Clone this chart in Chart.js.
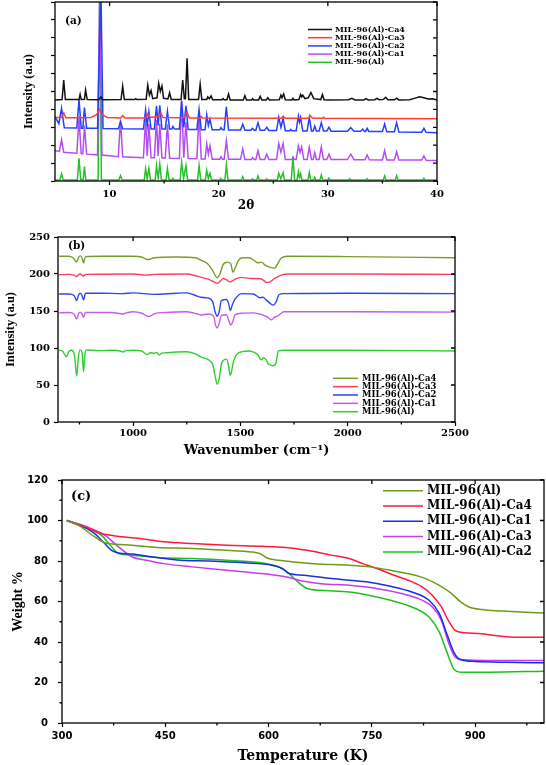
<!DOCTYPE html>
<html>
<head>
<meta charset="utf-8">
<script src="https://cdn.jsdelivr.net/npm/chart.js@4.4.1/dist/chart.umd.min.js"></script>
<style>
  body { margin: 0; background: #fff; width: 546px; height: 765px; position: relative; overflow: hidden; }
  .box { position: absolute; left: 0; width: 546px; }
</style>
</head>
<body>
<div class="box" style="top:0;height:214px"><canvas id="xrd"></canvas></div>
<div class="box" style="top:214px;height:246px"><canvas id="ftir"></canvas></div>
<div class="box" style="top:460px;height:305px"><canvas id="tga"></canvas></div>
<script>
// ---- (a) XRD, 2theta vs intensity (a.u.), curves stacked ----
const xrdLabels = ["MIL-96(Al)-Ca4", "MIL-96(Al)-Ca3", "MIL-96(Al)-Ca2", "MIL-96(Al)-Ca1", "MIL-96(Al)"];
const xrdTicks = [10, 20, 30, 40];
const xrdMinor = [15, 25, 35];
const xrdYTicks = [0, 10, 20, 30, 40, 50, 60, 70, 80, 90, 100];

const xrdCa4 = [[5,45.3],[5.65,45.5],[5.8,56.4],[5.95,45.5],[7.2,45.5],[7.3,48.4],[7.4,45.5],[7.7,45.6],[7.8,50.8],[7.95,45.5],[9.0,45.4],[9.2,47],[9.35,45.4],[11.05,45.5],[11.2,53],[11.35,45.5],[12.3,45.5],[12.4,46],[12.5,45.5],[13.35,45.7],[13.5,53.6],[13.65,48],[13.8,50.5],[13.95,46],[14.35,46.5],[14.5,54.6],[14.65,50],[14.8,53],[14.95,46.2],[15.35,45.8],[15.5,49.3],[15.65,45.6],[16.55,45.6],[16.7,56.4],[16.85,46],[16.95,46],[17.1,68.5],[17.25,45.6],[18.15,45.6],[18.3,54],[18.45,45.5],[18.9,45.5],[19.0,47],[19.15,46],[19.3,47.5],[19.45,45.4],[20.3,45.4],[20.4,46],[20.5,45.4],[20.75,45.4],[20.9,48.6],[21.05,45.3],[22.25,45.3],[22.4,47.7],[22.55,45.3],[23.0,45.3],[23.1,46],[23.2,45.3],[23.65,45.3],[23.8,47.3],[23.95,45.3],[24.35,45.3],[24.5,46.5],[24.65,45.3],[25.55,45.4],[25.7,48],[25.8,46.5],[25.95,48.6],[26.1,45.4],[26.7,45.3],[26.8,46.2],[26.9,45.3],[27.35,45.5],[27.5,48.3],[27.6,47],[27.7,48],[27.9,46],[28.2,46.5],[28.45,49.5],[28.7,46],[29.35,45.5],[29.5,48.3],[29.65,45.4],[30.0,45.3],[31.9,45.4],[32.2,46.2],[32.5,45.3],[33.3,45.3],[33.5,46],[33.7,45.3],[34.3,45.4],[34.5,46.2],[34.7,45.4],[35.1,45.6],[35.3,46.8],[35.5,45.4],[36.1,45.4],[36.3,46.3],[36.5,45.3],[37.5,45.4],[38.0,46.3],[38.4,47],[38.8,46.5],[39.2,45.8],[39.6,46],[40,45.3]];
const xrdCa3 = [[5,35.5],[5.6,35.5],[5.8,38],[6.0,35.3],[7.2,35.3],[7.3,36],[7.4,35.3],[8.3,35.5],[8.8,37],[9.1,40],[9.3,37],[9.8,35.5],[11.0,35.2],[11.2,36.5],[11.4,35.2],[13.3,35.2],[13.5,37.5],[13.7,35.5],[14.5,36],[14.7,38],[14.9,35.5],[16.8,35.3],[17.1,38.5],[17.3,35.2],[18.3,35.2],[18.4,36],[18.5,35.2],[25.7,35],[25.9,36],[26.1,35],[28.2,35],[28.4,36.5],[28.6,35],[29.5,35],[29.6,35.6],[29.7,35],[40,34.8]];
const xrdCa2 = [[5,36],[5.35,32],[5.6,40.6],[5.85,29.8],[7.0,29.6],[7.2,45.6],[7.4,29.5],[7.55,29.5],[7.7,41],[7.9,29.4],[8.9,29.4],[9.2,110],[9.4,29.3],[10.8,29.2],[11.0,33],[11.2,29.2],[13.1,29],[13.3,39.7],[13.45,31],[13.6,38.7],[13.8,29],[14.1,29],[14.3,42],[14.45,31],[14.6,42.3],[14.8,29],[15.1,29],[15.3,39],[15.5,29],[15.7,29],[15.8,30.5],[15.95,29],[16.4,29],[16.6,44.7],[16.8,30],[17.0,42],[17.2,28.8],[18.0,28.8],[18.2,40],[18.4,28.7],[18.75,28.7],[18.9,37],[19.05,31],[19.2,34.6],[19.4,28.6],[20.1,28.6],[20.2,29.8],[20.35,28.6],[20.5,28.6],[20.7,41.5],[20.9,28.5],[22.0,28.5],[22.2,31.7],[22.4,28.4],[22.95,28.4],[23.1,29.4],[23.25,28.4],[23.4,28.4],[23.6,32.6],[23.8,28.3],[24.2,28.3],[24.4,30],[24.6,28.2],[25.3,28.2],[25.5,35.6],[25.7,30],[25.9,35],[26.1,28.1],[26.5,28.1],[26.6,28.8],[26.7,28.1],[27.1,28.1],[27.3,36.3],[27.4,33],[27.5,35.5],[27.7,28],[28.1,28],[28.3,35.4],[28.5,28],[28.65,28],[28.8,30.7],[28.95,27.9],[29.2,27.9],[29.4,32.6],[29.6,27.9],[29.9,27.9],[30.1,30],[30.3,27.8],[31.8,27.8],[32.1,29.8],[32.4,27.8],[33.0,27.8],[33.2,29],[33.35,27.7],[33.45,27.7],[33.6,29.4],[33.75,27.7],[35.0,27.6],[35.2,31.8],[35.4,27.5],[36.1,27.5],[36.3,32.6],[36.5,27.4],[38.6,27.3],[38.8,29.4],[39.0,27.2],[40,27]];
const xrdCa1 = [[5,17],[5.4,16.5],[5.6,23],[5.8,16],[7.0,15.5],[7.2,35],[7.4,15.2],[7.55,15.2],[7.7,31],[7.9,15],[8.9,14.6],[9.1,110],[9.3,14.5],[10.8,13.6],[11.0,34.5],[11.2,13.5],[13.1,13],[13.3,34.5],[13.45,14],[13.6,32],[13.8,13],[14.1,13],[14.3,34],[14.45,14],[14.6,32],[14.8,12.8],[15.1,12.8],[15.3,31.7],[15.5,12.7],[16.4,12.6],[16.6,45],[16.8,13],[17.0,33],[17.2,12.5],[18.0,12.4],[18.2,38],[18.4,12.3],[18.75,12.3],[18.9,20.7],[19.05,15],[19.2,19.7],[19.4,12.2],[20.1,12.2],[20.2,13.5],[20.35,12.2],[20.5,12.2],[20.7,22.5],[20.9,12.1],[22.0,12.1],[22.2,17.9],[22.4,12],[23.0,12],[23.1,13],[23.25,12],[23.4,12],[23.6,17],[23.8,12],[24.2,12],[24.4,15],[24.6,12],[25.3,12],[25.5,21],[25.7,16],[25.9,21],[26.1,12],[26.7,12],[26.8,13],[26.95,12],[27.1,12],[27.3,19.7],[27.45,16],[27.6,19],[27.8,12],[28.1,12],[28.3,18.8],[28.5,12],[28.65,12],[28.8,15.8],[28.95,12],[29.2,12],[29.4,19],[29.6,12],[29.9,12],[30.1,15],[30.3,12],[31.8,12],[32.1,15],[32.4,11.9],[33.4,11.9],[33.6,14.5],[33.8,11.9],[35.0,11.8],[35.2,17],[35.4,11.8],[36.1,11.8],[36.3,16.4],[36.5,11.7],[38.6,11.7],[38.8,14],[39.0,11.6],[40,11.5]];
const xrdMil = [[5,0.6],[5.45,0.6],[5.6,4],[5.75,0.6],[7.05,0.6],[7.2,12.7],[7.35,0.8],[7.58,0.8],[7.7,8],[7.82,0.6],[8.95,0.6],[9.1,110],[9.25,0.6],[10.85,0.6],[11.0,3],[11.15,0.6],[13.18,0.6],[13.3,7],[13.45,1.2],[13.6,7],[13.75,0.6],[14.18,0.6],[14.3,8.6],[14.45,1.5],[14.6,9.5],[14.75,0.6],[15.18,0.6],[15.3,7],[15.45,0.6],[15.7,0.6],[15.8,1.5],[15.9,0.6],[16.47,0.6],[16.6,10.5],[16.78,1.5],[17.0,8.6],[17.15,0.6],[18.07,0.6],[18.2,8.6],[18.35,0.6],[18.78,0.6],[18.9,6],[19.05,1.5],[19.2,4.3],[19.35,0.6],[20.1,0.6],[20.2,1.5],[20.3,0.6],[20.57,0.6],[20.7,9],[20.85,0.6],[22.1,0.6],[22.2,2.4],[22.32,0.6],[23.0,0.6],[23.1,1.2],[23.2,0.6],[23.48,0.6],[23.6,2.8],[23.72,0.6],[24.3,0.6],[24.4,1.2],[24.5,0.6],[25.38,0.6],[25.5,4.3],[25.68,1.2],[25.9,4.7],[26.02,0.6],[26.65,0.6],[26.8,14],[26.95,0.6],[27.18,0.6],[27.3,5.2],[27.4,2],[27.5,4],[27.62,0.6],[28.18,0.6],[28.3,4.8],[28.42,0.6],[28.7,0.6],[28.8,2],[28.9,0.6],[29.28,0.6],[29.4,3.4],[29.52,0.6],[30.0,0.6],[30.1,1.6],[30.2,0.6],[31.9,0.6],[32.0,1.3],[32.1,0.6],[33.5,0.6],[33.6,1.3],[33.7,0.6],[35.08,0.6],[35.2,2.8],[35.32,0.6],[36.18,0.6],[36.3,3],[36.42,0.6],[38.7,0.6],[38.8,1.5],[38.9,0.6],[40,0.6]];

// ---- (b) FTIR, wavenumber vs intensity ----
const ftirLabels = ["MIL-96(Al)-Ca4", "MIL-96(Al)-Ca3", "MIL-96(Al)-Ca2", "MIL-96(Al)-Ca1", "MIL-96(Al)"];
const ftirTicks = [1000, 1500, 2000, 2500];
const ftirMinor = [750, 1250, 1750, 2250];
const ftirYTicks = [0, 50, 100, 150, 200, 250];

const ftirCa4 = [[655,224],[700,224],[720,222],[737,216],[745,222],[753,224.5],[762,222],[769,215],[778,223.5],[850,224],[1000,224],[1040,223],[1065,219.6],[1080,220],[1097,222],[1200,223],[1290,222],[1320,218],[1347,214],[1370,205],[1392,195],[1405,200],[1418,212],[1440,216],[1455,214],[1465,202.5],[1478,210],[1490,218],[1508,222],[1540,222],[1565,218],[1581,215],[1597,216],[1615,212],[1640,209],[1660,208],[1672,213],[1690,221.5],[1720,224],[2000,223.5],[2500,222]];
const ftirCa3 = [[655,199],[700,199.5],[725,198.5],[737,196.6],[745,199],[753,200],[762,198.5],[769,197],[778,199.5],[1000,200],[1060,198.5],[1100,199.5],[1250,200],[1300,197],[1350,193],[1380,189],[1392,187.6],[1405,190],[1420,194],[1435,192],[1452,189.4],[1470,192],[1500,195.5],[1550,194],[1592,193.5],[1610,191],[1620,188.5],[1635,189],[1660,194],[1690,198.5],[1720,200],[2000,200],[2500,199.5]];
const ftirCa2 = [[655,173],[700,173],[725,171],[737,164],[745,171],[753,174],[762,171],[769,165],[778,174],[850,174],[950,173.5],[1000,174.5],[1100,172.5],[1200,174],[1250,174.5],[1290,171],[1315,168.6],[1347,167.7],[1370,163],[1383,148],[1392,143],[1402,150],[1411,164],[1435,165.5],[1445,160],[1453,150.5],[1462,158],[1475,166],[1508,173.5],[1560,173],[1590,168],[1605,168.5],[1620,165],[1640,160],[1653,158],[1666,162],[1680,172],[1702,173.5],[2000,174],[2500,173.5]];
const ftirCa1 = [[655,147.5],[700,148],[725,146],[737,139],[745,146],[753,148.5],[762,146],[769,141.5],[778,148],[900,148],[952,146],[975,148],[1000,149],[1040,147],[1073,142.5],[1100,146.5],[1150,148],[1250,149],[1300,146],[1315,144.6],[1350,146],[1375,143],[1385,130],[1392,127],[1400,132],[1411,144],[1435,145],[1445,138],[1455,131],[1465,136],[1475,145],[1508,147],[1560,147.5],[1600,145],[1630,141],[1645,138],[1660,142],[1672,143],[1690,147],[1702,149],[2000,149],[2500,148.5]];
const ftirMil = [[655,97],[672,95.5],[689,88],[700,95],[712,97],[727,90],[737,62],[745,88],[753,97.5],[762,94],[769,68],[775,90],[782,97.5],[800,97],[850,96.5],[900,97],[940,96],[952,94.5],[965,96.5],[1000,97],[1040,96],[1065,91],[1080,93.5],[1097,93],[1110,94],[1121,90.5],[1135,93],[1153,93.5],[1200,94.5],[1250,95],[1290,92],[1315,88],[1335,86],[1347,85],[1360,82],[1371,78],[1382,62],[1392,51],[1402,60],[1411,78],[1425,84],[1435,85],[1445,76],[1452,63],[1460,70],[1468,82],[1485,92],[1508,95],[1540,96],[1565,94],[1581,91],[1597,84],[1608,87],[1620,84],[1629,79],[1640,77],[1653,76],[1666,80],[1677,96],[1702,97],[2000,97],[2500,96]];

// ---- (c) TGA, temperature (K) vs weight % ----
const tgaLabels = ["MIL-96(Al)", "MIL-96(Al)-Ca4", "MIL-96(Al)-Ca1", "MIL-96(Al)-Ca3", "MIL-96(Al)-Ca2"];
const tgaTicks = [300, 450, 600, 750, 900];
const tgaMinor = [375, 525, 675, 825, 975];
const tgaYTicks = [0, 20, 40, 60, 80, 100, 120];
const tgaYMinor = [10, 30, 50, 70, 90, 110];

const tgaMil = [[307,100],[326,97.2],[347,92],[362,89],[377,88.3],[402,87.8],[438,86.7],[489,86.2],[539,85.3],[575,84.5],[587,83.7],[600,81.2],[615,80.4],[666,78.7],[717,77.9],[747,77.1],[777,75.4],[808,73.3],[828,71.3],[848,68],[864,64.4],[879,59.8],[891,57.3],[909,56],[940,55.3],[1000,54.3]];
const tgaCa4 = [[307,100],[331,97.2],[357,93.6],[377,92.4],[413,91.1],[448,89.5],[489,88.6],[539,87.8],[590,87.3],[625,86.7],[656,85.3],[676,84],[691,82.9],[717,81.2],[737,78.7],[757,76.3],[782,73],[803,70.5],[823,67.2],[838,63],[851,57.3],[861,50.7],[871,45.7],[884,44.6],[909,44.1],[929,43.2],[955,42.4],[1000,42.4]];
const tgaCa1 = [[307,100],[326,97.7],[347,93.6],[362,88.6],[372,85.3],[382,84],[402,83.4],[438,81.7],[473,80.4],[514,80],[565,79.1],[605,77.9],[620,76.3],[630,73.8],[651,73],[691,71.3],[742,69.7],[777,67.5],[808,64.7],[833,60.6],[848,54],[859,44],[869,35],[879,31.2],[899,30.4],[945,30],[1000,29.7]];
const tgaCa3 = [[307,100],[336,96.9],[362,92.8],[382,87],[402,82],[423,80.4],[448,78.7],[489,77.1],[539,75.4],[590,73.8],[630,71.8],[651,70],[676,68.8],[717,68],[757,66.4],[793,63.9],[818,61.4],[838,57.3],[851,50.7],[861,40],[871,32.5],[884,31.2],[919,30.9],[1000,30.9]];
const tgaCa2 = [[307,100],[331,96.9],[357,92.8],[372,87],[382,83.7],[402,82.9],[438,81.7],[489,81.2],[539,80.4],[590,79.1],[615,77.1],[630,73.8],[641,70.1],[656,66.4],[676,65.5],[717,64.7],[747,63],[777,60.6],[808,57.3],[833,52.3],[848,44.9],[859,35],[869,26.7],[879,25.1],[919,25.1],[1000,25.6]];

// frame, inner mirror ticks, minor ticks, panel tag and legend
const framePlugin = {
  id: 'frame',
  afterDraw(chart, args, o) {
    const ctx = chart.ctx;
    const a = chart.chartArea;
    const x = chart.scales.x, y = chart.scales.y;
    ctx.save();
    ctx.strokeStyle = '#000';
    ctx.lineWidth = 1.3;
    ctx.strokeRect(a.left, a.top, a.right - a.left, a.bottom - a.top);
    ctx.beginPath();
    x.ticks.forEach(t => {
      let px = x.getPixelForValue(t.value);
      ctx.moveTo(px, a.top); ctx.lineTo(px, a.top + 4);
    });
    y.ticks.forEach(t => {
      let py = y.getPixelForValue(t.value);
      ctx.moveTo(a.right, py); ctx.lineTo(a.right - 4, py);
    });
    (o.minorX || []).forEach(v => {
      let px = x.getPixelForValue(v);
      ctx.moveTo(px, a.bottom); ctx.lineTo(px, a.bottom + 2.5);
    });
    (o.minorY || []).forEach(v => {
      let py = y.getPixelForValue(v);
      ctx.moveTo(a.left, py); ctx.lineTo(a.left - 2.5, py);
    });
    ctx.stroke();

    ctx.fillStyle = '#000';
    ctx.textBaseline = 'middle';
    ctx.font = o.tagFont;
    ctx.fillText(o.tag, o.tagX, o.tagY);

    let L = o.legend;
    ctx.font = L.font;
    chart.data.datasets.forEach((ds, i) => {
      let yy = L.y + i * L.dy;
      ctx.strokeStyle = ds.borderColor;
      ctx.lineWidth = 1.5;
      ctx.beginPath(); ctx.moveTo(L.x, yy); ctx.lineTo(L.x + L.len, yy); ctx.stroke();
      ctx.fillText(ds.label, L.x + L.len + L.gap, yy);
    });
    ctx.restore();
  }
};

const serif = 'DejaVu Serif';

function makeSets(labels, series, colors, width, smooth) {
  return series.map((s, i) => ({
    label: labels[i],
    data: s.map(p => ({x: p[0], y: p[1]})),
    borderColor: colors[i],
    borderWidth: width,
    pointRadius: 0,
    fill: false,
    cubicInterpolationMode: smooth ? 'monotone' : 'default',
    tension: 0
  }));
}

function makeChart(id, sets, cfg) {
  return new Chart(document.getElementById(id), {
    type: 'line',
    data: { datasets: sets },
    plugins: [framePlugin],
    options: {
      responsive: true,
      maintainAspectRatio: false,
      animation: false,
      layout: { padding: cfg.pad },
      plugins: { legend: { display: false }, tooltip: { enabled: false }, frame: cfg.frame },
      scales: {
        x: {
          type: 'linear', min: cfg.xMin, max: cfg.xMax,
          afterBuildTicks: s => { s.ticks = cfg.xTicks.map(v => ({ value: v })); },
          afterFit: s => { s.height = cfg.xH; },
          border: { display: false },
          grid: { drawOnChartArea: false, drawTicks: true, tickLength: 4, tickColor: '#000', tickWidth: 1.2 },
          ticks: { color: '#000', autoSkip: false, maxRotation: 0, padding: cfg.xTickPad, font: cfg.xTickFont,
                   callback: v => String(v) },
          title: { display: true, text: cfg.xTitle, color: '#000', font: cfg.xTitleFont, padding: { top: 0, bottom: cfg.xTitlePad } }
        },
        y: {
          type: 'linear', min: cfg.yMin, max: cfg.yMax,
          afterBuildTicks: s => { s.ticks = cfg.yTicks.map(v => ({ value: v })); },
          afterFit: s => { s.width = cfg.yW; },
          border: { display: false },
          grid: { drawOnChartArea: false, drawTicks: true, tickLength: 4, tickColor: '#000', tickWidth: 1.2 },
          ticks: { display: cfg.yLabels, color: '#000', padding: cfg.yTickPad, font: cfg.yTickFont,
                   callback: v => String(v) },
          title: { display: true, text: cfg.yTitle, color: '#000', font: cfg.yTitleFont, padding: { top: cfg.yTitlePad, bottom: 0 } }
        }
      }
    }
  });
}

// (a)
makeChart('xrd',
  makeSets(xrdLabels, [xrdCa4, xrdCa3, xrdCa2, xrdCa1, xrdMil],
    ['#111111', '#ff3b3b', '#2440ff', '#b34df2', '#27c227'], 1.5, false),
  {
    pad: { left: 0, right: 109, top: 2, bottom: 0 },
    xMin: 5, xMax: 40, xTicks: xrdTicks, xH: 33, xTickPad: 3,
    xTickFont: { family: serif, weight: 'bold', size: 10 },
    xTitle: '2θ', xTitleFont: { family: serif, weight: 'bold', size: 12 }, xTitlePad: 1,
    yMin: 0, yMax: 100, yTicks: xrdYTicks, yW: 55, yLabels: false, yTickPad: 3,
    yTickFont: { family: serif, weight: 'bold', size: 10 },
    yTitle: 'Intensity (a.u)', yTitleFont: { family: 'Liberation Serif', weight: 'bold', size: 12.5 }, yTitlePad: 21,
    frame: {
      minorX: xrdMinor, tag: '(a)', tagX: 65, tagY: 21, tagFont: 'bold 10.5px "DejaVu Serif"',
      legend: { x: 308, y: 29.5, dy: 8.2, len: 24, gap: 3, font: 'bold 8px "DejaVu Serif"' }
    }
  });

// (b)
makeChart('ftir',
  makeSets(ftirLabels, [ftirCa4, ftirCa3, ftirCa2, ftirCa1, ftirMil],
    ['#7b9c2a', '#ff3f5a', '#2a48ee', '#c25cf0', '#2fcf2f'], 1.4, true),
  {
    pad: { left: 0, right: 91, top: 23, bottom: 0 },
    xMin: 650, xMax: 2500, xTicks: ftirTicks, xH: 38, xTickPad: 1,
    xTickFont: { family: serif, weight: 'bold', size: 10 },
    xTitle: 'Wavenumber (cm⁻¹)', xTitleFont: { family: serif, weight: 'bold', size: 13 }, xTitlePad: 2,
    yMin: 0, yMax: 250, yTicks: ftirYTicks, yW: 58, yLabels: true, yTickPad: 4,
    yTickFont: { family: serif, weight: 'bold', size: 10 },
    yTitle: 'Intensity (a.u)', yTitleFont: { family: 'Liberation Serif', weight: 'bold', size: 12.5 }, yTitlePad: 3,
    frame: {
      minorX: ftirMinor, tag: '(b)', tagX: 68, tagY: 32.5, tagFont: 'bold 10.5px "DejaVu Serif"',
      legend: { x: 333, y: 164.3, dy: 8.35, len: 25, gap: 4, font: 'bold 8.5px "DejaVu Serif"' }
    }
  });

// (c)
makeChart('tga',
  makeSets(tgaLabels, [tgaMil, tgaCa4, tgaCa1, tgaCa3, tgaCa2],
    ['#6f9a1a', '#ff1a3c', '#1a2fe0', '#c33cf2', '#1fc01f'], 1.5, true),
  {
    pad: { left: 0, right: 2, top: 20, bottom: 0 },
    xMin: 300, xMax: 1000, xTicks: tgaTicks, xH: 42, xTickPad: 3,
    xTickFont: { family: 'DejaVu Sans', weight: 'bold', size: 10 },
    xTitle: 'Temperature (K)', xTitleFont: { family: serif, weight: 'bold', size: 14 }, xTitlePad: 0,
    yMin: 0, yMax: 120, yTicks: tgaYTicks, yW: 62, yLabels: true, yTickPad: 10,
    yTickFont: { family: 'DejaVu Sans', weight: 'bold', size: 10 },
    yTitle: 'Weight %', yTitleFont: { family: 'Liberation Serif', weight: 'bold', size: 14 }, yTitlePad: 10,
    frame: {
      minorX: tgaMinor, minorY: tgaYMinor, tag: '(c)', tagX: 71, tagY: 37, tagFont: 'bold 13px "DejaVu Serif"',
      legend: { x: 383, y: 30.7, dy: 15.3, len: 40, gap: 4, font: 'bold 12px "DejaVu Serif"' }
    }
  });
</script>
</body>
</html>
